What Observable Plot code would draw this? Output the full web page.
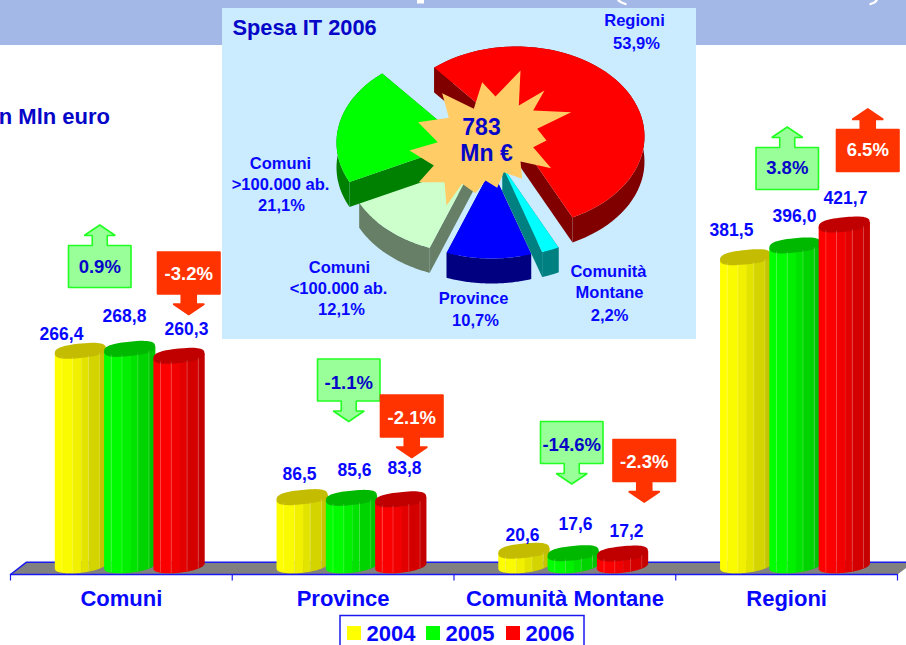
<!DOCTYPE html>
<html lang="it">
<head>
<meta charset="utf-8">
<title>Spesa IT 2006</title>
<script src="https://cdn.jsdelivr.net/npm/d3@7"></script>
<script src="https://cdn.jsdelivr.net/npm/@observablehq/plot@0.6"></script>
<style>
  html, body { margin: 0; padding: 0; background: #fff; overflow: hidden; }
  #stage { position: relative; width: 906px; height: 645px; }
  #stage svg { position: absolute; left: 0; top: 0; }
</style>
</head>
<body>
<div id="stage"></div>
<script>
// ---------- data ----------
const categories = ["Comuni", "Province", "Comunità Montane", "Regioni"];
const years = [2004, 2005, 2006];
const values2004 = [266.4, 86.5, 20.6, 381.5];
const values2005 = [268.8, 85.6, 17.6, 396.0];
const values2006 = [260.3, 83.8, 17.2, 421.7];
const change0405 = ["0.9%", "-1.1%", "-14.6%", "3.8%"];
const change0506 = ["-3.2%", "-2.1%", "-2.3%", "6.5%"];
const pieNames = [["Regioni"], ["Comunità", "Montane"], ["Province"], ["Comuni", "<100.000 ab."], ["Comuni", ">100.000 ab."]];
const pieShares = [53.9, 2.2, 10.7, 12.1, 21.1];
const pieTotal = ["783", "Mn €"];
const pieTitle = "Spesa IT 2006";
const unitNote = "n Mln euro";

// ---------- styles and layout ----------
const font = "'Liberation Sans', Arial, sans-serif";
const BLUE = "#0808ff", NAVY = "#0606c8";
const barBase = { 2004: [255, 255, 0], 2005: [0, 255, 0], 2006: [255, 0, 0] };
const capColor = { 2004: "#c4bc00", 2005: "#00b800", 2006: "#c00000" };
const legendColor = { 2004: "#ffff00", 2005: "#00ff00", 2006: "#ff0000" };
const seriesValues = [values2004, values2005, values2006];

const ux = 4 / 887, uy = 421.7 / 343;       // data units per pixel
const barStart = 44.3, barStep = 49.3, barWidth = 51;
const capTilt = 0.1, capHalf = 7.2, capDrop = 1;
const strips = [[0, .14, 1], [.14, .35, .98], [.35, .52, .94], [.52, .66, .89], [.66, .88, .83], [.88, 1, .77]];

// bar polygons
const barPolys = [], barLines = [];
const spow = (a, p) => Math.sign(a) * Math.abs(a) ** p;
categories.forEach((c, g) => years.forEach((yr, k) => {
  const v = seriesValues[k][g] - capDrop * uy;
  const left = g + (barStart + barStep * k) * ux, w = barWidth * ux;
  const tilt = u => capTilt * (u - 0.5) * barWidth * uy;          // rises to the right
  const half = u => 6.3 * uy * Math.sqrt(Math.max(0, 1 - (2 * u - 1) ** 2));
  strips.forEach(([a, b, f], s) => {
    const id = `${g}-${k}-${s}`;
    const col = `rgb(${barBase[yr].map(x => Math.round(x * f)).join(",")})`;
    const pts = [];
    const n = 8;
    for (let i = 0; i <= n; i++) { const u = a + (b + .006 - a) * i / n; pts.push([u, v + tilt(u)]); }
    for (let i = n; i >= 0; i--) { const u = a + (b + .006 - a) * i / n; pts.push([u, tilt(u) - half(u)]); }
    pts.forEach(([u, y]) => barPolys.push({ id, x: left + u * w, y, fill: col }));
  });
  [.14, .35, .66, .88].forEach(u => barLines.push({
    x: left + u * w, y1: tilt(u) - half(u), y2: v + tilt(u) - half(u), id: `${g}-${k}-${u}`
  }));
  const id = `${g}-${k}-cap`;
  for (let i = 0; i <= 60; i++) {
    const t = i / 60 * 2 * Math.PI, u = .5 - .5 * spow(Math.cos(t), .75);
    barPolys.push({ id, x: left + u * w, y: v + tilt(u) + capHalf * uy * spow(Math.sin(t), .75), fill: capColor[yr] });
  }
}));

const floorFront = -8 * uy, floorBack = 4.3 * uy, skew = 16 * ux;
const floor = [[0, floorFront], [skew, floorBack], [4 + skew, floorBack], [4, floorFront]].map(([x, y]) => ({ x, y }));

const main = Plot.plot({
  width: 906, height: 645, margin: 0,
  style: { fontFamily: font, background: "#fff" },
  x: { domain: [0, 4], range: [10, 897], axis: null },
  y: { domain: [0, 421.7], range: [566, 223], axis: null },
  color: { type: "identity" },
  marks: [
    Plot.line(floor, { x: "x", y: "y", fill: "#808080", stroke: "none" }),
    Plot.line(floor.slice(0, 3), { x: "x", y: "y", stroke: "#1a1af0", strokeWidth: 1.5 }),
    Plot.ruleY([floorFront], { x1: 0, x2: 4, stroke: "#1a1af0", strokeWidth: 1.6 }),
    Plot.ruleX(d3.range(5), { x: d => d, y1: floorFront, y2: floorFront - 6.5 * uy, stroke: "#1a1af0", strokeWidth: 1.2 }),
    Plot.line(barPolys, { x: "x", y: "y", z: "id", fill: "fill", stroke: "none" }),
    Plot.ruleX(barLines, { x: "x", y1: "y1", y2: "y2", stroke: "#fff", strokeOpacity: 0.2, strokeWidth: 1 }),
    Plot.text(categories, {
      x: (d, i) => i + .5, y: 0, dy: 32, text: d => d,
      fill: BLUE, fontSize: 22, fontWeight: "bold"
    })
  ]
});

// ---------- overlay: header, pie inset, callouts, labels, legend ----------
const pieColors = [["#ff0000", "#800000"], ["#00ffff", "#008080"], ["#0000ff", "#000080"], ["#ccffcc", "#667f66"], ["#00ff00", "#008000"]];
const pieApex = [[516, 136], [502, 166], [491, 168], [474, 163], [464, 142]];
const drawOrder = [0, 3, 4, 1, 2];
const rx = 128, ry = 90, depth = 25, startAngle = -40;
const rad = d => d * Math.PI / 180;
let acc = startAngle;
const sliceAngles = pieShares.map(s => { const a = [acc, acc + s * 3.6]; acc += s * 3.6; return a; });
const piePolys = [];
let pid = 0;
function addPoly(pts, fill) { const id = pid++; pts.forEach(([x, y]) => piePolys.push({ id, x, y, fill })); }
drawOrder.forEach(i => {
  const [t0, t1] = sliceAngles[i], [ax, ay] = pieApex[i], [top, wall] = pieColors[i];
  const P = t => [ax + rx * Math.sin(rad(t)), ay - ry * Math.cos(rad(t))];
  const arc = d3.range(0, 61).map(j => P(t0 + (t1 - t0) * j / 60));
  const down = ([x, y]) => [x, y + depth];
  addPoly([[ax, ay], arc[0], down(arc[0]), [ax, ay + depth]], wall);
  addPoly([[ax, ay], arc[60], down(arc[60]), [ax, ay + depth]], wall);
  addPoly([...arc, ...arc.slice().reverse().map(down)], wall);
  addPoly([[ax, ay], ...arc], top);
});

const starPoints = [[900,210],[895,315],[972,270],[938,330],[1052,335],[950,385],[978,420],[938,440],[992,503],[900,483],[905,535],[850,515],[830,562],[795,540],[765,578],[725,550],[678,615],[672,545],[595,545],[640,495],[567,450],[652,425],[593,365],[685,352],[665,278],[760,325],[785,245],[825,288]]
  .map(([x, y]) => ({ x: 220 + x / 3, y: y / 3 }));

const pieLabelPos = [
  [[634, 20], [636, 43]],
  [[608, 271], [609, 292], [609, 315]],
  [[473, 298], [475, 320]],
  [[339, 267], [338, 288], [341, 309.5]],
  [[280, 163], [280, 184], [281, 205]]
];
const pieLabels = [];
pieNames.forEach((lines, i) => {
  [...lines, String(pieShares[i]).replace(".", ",") + "%"].forEach((text, j) =>
    pieLabels.push({ text, x: pieLabelPos[i][j][0], y: pieLabelPos[i][j][1] }));
});

// value labels
const valuePos = [
  [[61, 334], [299, 474], [522, 535], [731, 230]],
  [[124, 316], [354, 470], [575, 524], [794, 216]],
  [[186, 329], [404, 468], [626, 531], [845, 198]]
];
const valueLabels = [];
seriesValues.forEach((vals, k) => vals.forEach((v, g) => valueLabels.push({
  text: d3.format(".1f")(v).replace(".", ","), x: valuePos[k][g][0], y: valuePos[k][g][1]
})));

// callouts: box left, box top, text centre y
const calloutGreen = [[68, 245, 266.5], [317, 358.5, 383], [540, 421, 445], [755.5, 147, 168]];
const calloutRed = [[157, 251.5, 274], [380, 394.5, 418], [612.5, 439, 462], [836, 129, 149.5]];
const boxW = 62.5, boxH = 42, shaftW = 15, shaftL = 10, headW = 31, headH = 10.5;
function arrowPoly(text, l, t) {
  const c = l + boxW / 2, up = !text.startsWith("-");
  const b = t + boxH;
  return up
    ? [[l, t], [c - shaftW / 2, t], [c - shaftW / 2, t - shaftL], [c - headW / 2, t - shaftL], [c, t - shaftL - headH], [c + headW / 2, t - shaftL], [c + shaftW / 2, t - shaftL], [c + shaftW / 2, t], [l + boxW, t], [l + boxW, b], [l, b], [l, t]]
    : [[l, t], [l + boxW, t], [l + boxW, b], [c + shaftW / 2, b], [c + shaftW / 2, b + shaftL], [c + headW / 2, b + shaftL], [c, b + shaftL + headH], [c - headW / 2, b + shaftL], [c - shaftW / 2, b + shaftL], [c - shaftW / 2, b], [l, b], [l, t]];
}
const calloutPolys = [], calloutTextG = [], calloutTextR = [];
categories.forEach((c, g) => {
  const [lg, tg, yg] = calloutGreen[g], [lr, tr, yr] = calloutRed[g];
  arrowPoly(change0405[g], lg, tg).forEach(([x, y]) => calloutPolys.push({ id: "g" + g, x, y, fill: "#99ff99", stroke: "#22ff22" }));
  arrowPoly(change0506[g], lr, tr).forEach(([x, y]) => calloutPolys.push({ id: "r" + g, x, y, fill: "#ff3300", stroke: "#ff3300" }));
  calloutTextG.push({ text: change0405[g], x: lg + boxW / 2, y: yg });
  calloutTextR.push({ text: change0506[g], x: lr + boxW / 2, y: yr });
});

const legendSwatchX = [347, 426, 506], legendTextX = [366, 445, 525];

const overlay = Plot.plot({
  width: 906, height: 645, margin: 0,
  style: { fontFamily: font, background: "transparent" },
  x: { domain: [0, 906], range: [0, 906], axis: null },
  y: { domain: [0, 645], range: [0, 645], axis: null },
  color: { type: "identity" },
  marks: [
    Plot.rect([0], { x1: 0, x2: 906, y1: 0, y2: 45, fill: "#a3b8e6" }),
    Plot.rect([0], { x1: 417, x2: 424, y1: 0, y2: 3.5, fill: "#fff" }),
    Plot.line([[618, 0], [621, 2], [625, 3.5]], { x: d => d[0], y: d => d[1], stroke: "#fff", strokeWidth: 2.4 }),
    Plot.line([[876, 0], [874, 2], [870, 3.5]], { x: d => d[0], y: d => d[1], stroke: "#fff", strokeWidth: 2.4 }),
    Plot.rect([0], { x1: 222, x2: 696, y1: 8, y2: 339, fill: "#cbecff" }),
    Plot.text([unitNote], { x: 109.5, y: 116, text: d => d, textAnchor: "end", fill: NAVY, fontSize: 22, fontWeight: "bold" }),
    Plot.text([pieTitle], { x: 232, y: 27.5, text: d => d, textAnchor: "start", fill: NAVY, fontSize: 21.8, fontWeight: "bold" }),
    Plot.line(piePolys, { x: "x", y: "y", z: "id", fill: "fill", stroke: "none" }),
    Plot.line([...starPoints, starPoints[0]], { x: "x", y: "y", fill: "#ffcc66", stroke: "none" }),
    Plot.text(pieTotal, { x: (d, i) => [481, 486][i], y: (d, i) => [127.5, 153.5][i], text: d => d, fill: NAVY, fontSize: 23, fontWeight: "bold" }),
    Plot.text(pieLabels, { x: "x", y: "y", text: "text", fill: BLUE, fontSize: 16.5, fontWeight: "bold" }),
    Plot.text(valueLabels, { x: "x", y: "y", text: "text", fill: BLUE, fontSize: 17.5, fontWeight: "bold" }),
    Plot.line(calloutPolys, { x: "x", y: "y", z: "id", fill: "fill", stroke: "stroke", strokeWidth: 1.6, strokeLinejoin: "miter" }),
    Plot.text(calloutTextG, { x: "x", y: "y", text: "text", fill: NAVY, fontSize: 18.5, fontWeight: "bold" }),
    Plot.text(calloutTextR, { x: "x", y: "y", text: "text", fill: "#fff", fontSize: 18.5, fontWeight: "bold" }),
    Plot.rect([0], { x1: 340, x2: 584, y1: 615.5, y2: 660, fill: "#fff", stroke: "#1a1af0", strokeWidth: 1.5 }),
    Plot.rect(years, { x1: (d, i) => legendSwatchX[i], x2: (d, i) => legendSwatchX[i] + 14, y1: 626, y2: 640, fill: d => legendColor[d] }),
    Plot.text(years, { x: (d, i) => legendTextX[i], y: 633, text: d => String(d), textAnchor: "start", fill: BLUE, fontSize: 22, fontWeight: "bold" })
  ]
});

const stage = document.getElementById("stage");
stage.append(main, overlay);
</script>
</body>
</html>
